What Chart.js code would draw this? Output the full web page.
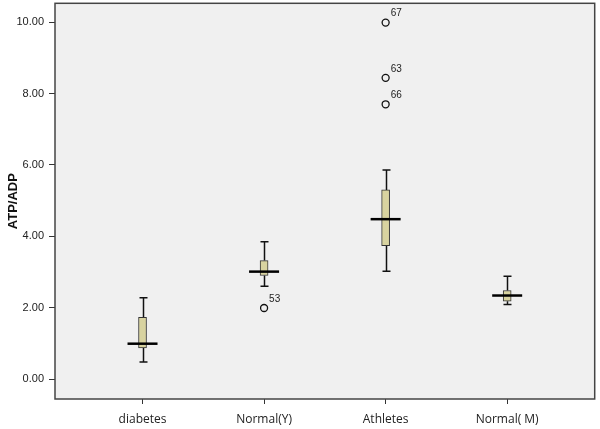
<!DOCTYPE html>
<html><head><meta charset="utf-8">
<script src="https://cdn.jsdelivr.net/npm/chart.js@4.4.1/dist/chart.umd.min.js"></script>
<style>html,body{margin:0;padding:0;background:#fff;overflow:hidden;}#wrap{width:600px;height:429px;overflow:hidden;}#c{display:block;margin-top:-2px;}</style>
</head><body><div id="wrap"><canvas id="c" width="600" height="431"></canvas></div>
<script>
const categories = ['diabetes', 'Normal(Y)', 'Athletes', 'Normal( M)'];
const whiskerLow  = [0.48, 2.60, 3.02, 2.09];
const q1          = [0.87, 2.90, 3.74, 2.18];
const median      = [0.99, 3.01, 4.48, 2.34];
const q3          = [1.73, 3.32, 5.30, 2.48];
const whiskerHigh = [2.28, 3.85, 5.86, 2.88];
const outlierCategory = [1, 2, 2, 2];
const outlierValues   = [1.99, 9.99, 8.44, 7.70];
const outlierLabels   = ['53', '67', '63', '66'];
const yTicks = [0, 2, 4, 6, 8, 10];

const boxData = categories.map((c, i) => ({x: i, y: [q1[i], q3[i]]}));
const outData = outlierValues.map((v, i) => ({x: outlierCategory[i], y: v}));

const boxPlugin = {
  id: 'boxPlugin',
  beforeDraw(chart) {
    const {ctx, chartArea: a} = chart;
    ctx.save();
    ctx.fillStyle = '#f0f0f0';
    ctx.fillRect(a.left, a.top, a.right - a.left, a.bottom - a.top);
    ctx.restore();
  },
  beforeDatasetsDraw(chart) {
    const {ctx, scales: {x, y}} = chart;
    ctx.save();
    ctx.strokeStyle = '#111';
    ctx.lineWidth = 1.5;
    categories.forEach((c, i) => {
      const px = Math.round(x.getPixelForValue(i)) + 0.5;
      const hi = y.getPixelForValue(whiskerHigh[i]);
      const lo = y.getPixelForValue(whiskerLow[i]);
      const b1 = y.getPixelForValue(q1[i]);
      const b3 = y.getPixelForValue(q3[i]);
      ctx.beginPath();
      ctx.moveTo(px, hi); ctx.lineTo(px, b3);
      ctx.moveTo(px, b1); ctx.lineTo(px, lo);
      ctx.moveTo(px - 4, hi); ctx.lineTo(px + 4, hi);
      ctx.moveTo(px - 4, lo); ctx.lineTo(px + 4, lo);
      ctx.stroke();
    });
    ctx.restore();
  },
  afterDatasetsDraw(chart) {
    const {ctx, scales: {x, y}, chartArea: a} = chart;
    ctx.save();
    ctx.strokeStyle = '#000';
    ctx.lineWidth = 2.5;
    categories.forEach((c, i) => {
      const px = x.getPixelForValue(i);
      const m = y.getPixelForValue(median[i]);
      ctx.beginPath();
      ctx.moveTo(px - 15, m); ctx.lineTo(px + 15, m);
      ctx.stroke();
    });
    ctx.fillStyle = '#222';
    ctx.font = '10px "Liberation Sans", Arial, sans-serif';
    ctx.textBaseline = 'middle';
    outlierValues.forEach((v, i) => {
      const px = x.getPixelForValue(outlierCategory[i]);
      const py = y.getPixelForValue(v);
      ctx.fillText(outlierLabels[i], px + 5, py - 9);
    });
    ctx.strokeStyle = '#444';
    ctx.lineWidth = 1.5;
    ctx.strokeRect(a.left, a.top, a.right - a.left, a.bottom - a.top);
    ctx.restore();
  }
};

new Chart(document.getElementById('c'), {
  type: 'bar',
  data: {
    datasets: [
      {
        type: 'bar',
        data: boxData,
        backgroundColor: '#d8d3a0',
        borderColor: '#333',
        borderWidth: 1,
        borderSkipped: false,
        barThickness: 8,
        grouped: false
      },
      {
        type: 'scatter',
        data: outData,
        pointStyle: 'circle',
        radius: 3.5,
        backgroundColor: '#f0f0f0',
        borderColor: '#111',
        borderWidth: 1.3
      }
    ]
  },
  options: {
    responsive: false,
    animation: false,
    devicePixelRatio: 1,
    layout: {padding: {top: 0, right: 2, left: 0, bottom: 0}},
    plugins: {legend: {display: false}, tooltip: {enabled: false}},
    scales: {
      x: {
        type: 'linear',
        offset: false,
        min: -0.72, max: 3.72,
        afterBuildTicks(s) { s.ticks = categories.map((c, i) => ({value: i})); },
        afterFit(s) { s.height = 30; s.paddingLeft = 0; s.paddingRight = 0; },
        ticks: {
          callback: (v) => categories[v],
          color: '#222',
          font: {family: '"Open Sans", "DejaVu Sans", sans-serif', size: 12},
          padding: 8,
          maxRotation: 0, autoSkip: false
        },
        grid: {display: true, offset: false, drawOnChartArea: false, drawTicks: true, tickLength: 5, tickColor: '#333', tickWidth: 1},
        border: {display: false}
      },
      y: {
        type: 'linear',
        min: -0.56, max: 10.53,
        afterBuildTicks(s) { s.ticks = yTicks.map(v => ({value: v})); },
        afterFit(s) { s.width = 55; s.paddingTop = 0; s.paddingBottom = 0; },
        ticks: {
          callback: (v) => Number(v).toFixed(2),
          color: '#222',
          font: {family: '"Liberation Sans", Arial, sans-serif', size: 11},
          padding: 5
        },
        title: {
          display: true, text: 'ATP/ADP', color: '#111',
          font: {family: '"Liberation Sans", Arial, sans-serif', size: 13, weight: 'bold'},
          padding: {top: 6, bottom: 0}
        },
        grid: {display: true, drawOnChartArea: false, drawTicks: true, tickLength: 6, tickColor: '#333', tickWidth: 1},
        border: {display: false}
      }
    }
  },
  plugins: [boxPlugin]
});
</script>
</body></html>
